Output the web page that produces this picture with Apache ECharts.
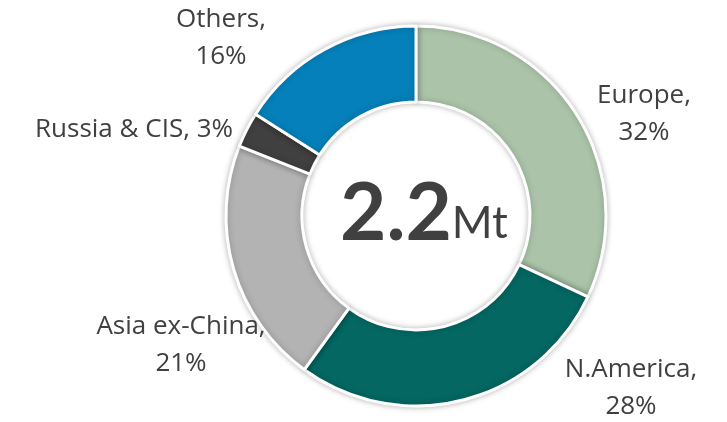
<!DOCTYPE html>
<html>
<head>
<meta charset="utf-8">
<title>Donut</title>
<script src="https://cdn.jsdelivr.net/npm/echarts@6/dist/echarts.min.js"></script>
<style>
html, body {margin: 0; padding: 0; background: #fff;}
#main {width: 727px; height: 422px;}
</style>
</head>
<body>
<div id="main"></div>
<script>
// regions, shares (%) and colours, clockwise from 12 o'clock
var regions = ['Europe', 'N.America', 'Asia ex-China', 'Russia & CIS', 'Others'];
var shares = [32, 28, 21, 3, 16];
var colors = ['#abc4a9', '#046762', '#b3b3b3', '#404040', '#0580ba'];
// label on one line or two
var oneLine = [false, false, false, true, false];
var totalText = '2.2';
var unitText = 'Mt';

// where each label block sits (centre, px)
var labelPos = [[644, 114], [631, 388], [181, 345], [134, 130], [221, 38]];

var myChart = echarts.init(document.getElementById('main'));

var data = regions.map(function (r, i) {
    return {name: r, value: shares[i], itemStyle: {color: colors[i]}};
});

var option = {
    animation: false,
    graphic: [{
        type: 'text',
        left: 340,
        top: 174,
        style: {
            rich: {
                a: {fontSize: 80, fontWeight: 'bold', fill: '#404040', fontFamily: 'Lato'},
                b: {fontSize: 44, fill: '#404040', fontFamily: 'Lato', padding: [20, 0, 0, 0]}
            },
            text: '{a|' + totalText + '}{b|' + unitText + '}'
        }
    }],
    series: [{
        type: 'pie',
        center: [416, 216],
        radius: [114, 190],
        startAngle: 90,
        clockwise: true,
        itemStyle: {
            borderColor: '#fff',
            borderWidth: 3,
            shadowBlur: 6,
            shadowColor: 'rgba(0,0,0,0.25)'
        },
        label: {
            show: true,
            position: 'outside',
            color: '#404040',
            fontSize: 26,
            fontFamily: 'Open Sans',
            lineHeight: 37,
            align: 'center',
            verticalAlign: 'middle',
            overflow: 'none',
            edgeDistance: 0,
            formatter: function (p) {
                return p.name + (oneLine[p.dataIndex] ? ', ' : ',\n') + p.value + '%';
            }
        },
        labelLine: {show: false},
        labelLayout: function (params) {
            var p = labelPos[params.dataIndex];
            return {x: p[0], y: p[1], align: 'center', verticalAlign: 'middle'};
        },
        data: data
    }]
};

myChart.setOption(option);
</script>
</body>
</html>
